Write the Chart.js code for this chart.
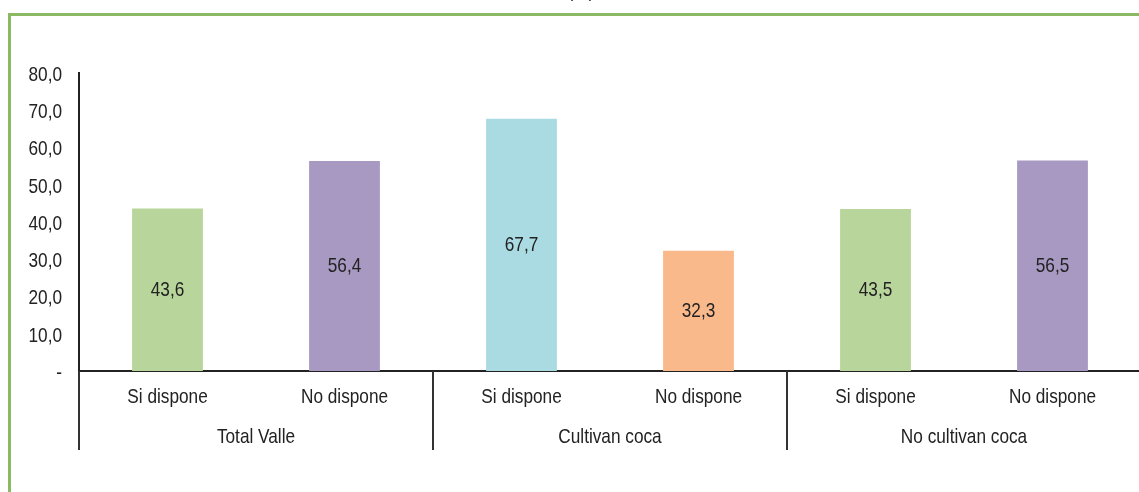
<!DOCTYPE html>
<html>
<head>
<meta charset="utf-8">
<script src="https://cdn.jsdelivr.net/npm/chart.js@4"></script>
<style>
  html, body { margin: 0; padding: 0; background: #fff; overflow: hidden; width: 1139px; height: 492px; }
  #marco { position: absolute; left: 8px; top: 13px; width: 1200px; height: 600px; border: 3px solid #8cb963; box-sizing: border-box; }
  #wrap { position: absolute; left: 0; top: 0; width: 1141px; height: 492px; }
</style>
</head>
<body>
<div id="marco"></div>
<div id="wrap"><canvas id="grafico"></canvas></div>
<script>
// ---------------------------------------------------------------
// Datos
// ---------------------------------------------------------------
const titulo = "(%)";
const grupos = ["Total Valle", "Cultivan coca", "No cultivan coca"];
const categorias = ["Si dispone", "No dispone", "Si dispone", "No dispone", "Si dispone", "No dispone"];
const valores = [43.6, 56.4, 67.7, 32.3, 43.5, 56.5];
const ticksY = [0, 10, 20, 30, 40, 50, 60, 70, 80];

const coloresBarras = ["#b8d59b", "#a899c2", "#aadbe3", "#fab98b", "#b8d59b", "#a899c2"];
const FUENTE = '21px "Liberation Sans", Arial, sans-serif';
const ESTRECHO = 0.82;   // la fuente original es tipo "Narrow"

// formato 43,6 ; cero como "-"
const fmt = v => v === 0 ? "-" : v.toFixed(1).replace(".", ",");

// texto comprimido horizontalmente
function textoEstrecho(ctx, txt, x, y, align, base) {
    ctx.save();
    ctx.translate(x, y);
    ctx.scale(ESTRECHO, 1);
    ctx.font = FUENTE;
    ctx.fillStyle = "#222";
    ctx.textAlign = align;
    ctx.textBaseline = base || "middle";
    ctx.fillText(txt, 0, 0);
    ctx.restore();
}

// ---------------------------------------------------------------
// Plugin: valores dentro de las barras
// ---------------------------------------------------------------
const etiquetasBarras = {
    id: "etiquetasBarras",
    afterDatasetsDraw(chart) {
        const meta = chart.getDatasetMeta(0);
        meta.data.forEach((bar, i) => {
            textoEstrecho(chart.ctx, fmt(valores[i]), bar.x, (bar.y + bar.base) / 2, "center");
        });
    }
};

// ---------------------------------------------------------------
// Plugin: etiquetas de ejes (categorías, grupos, eje Y y título)
// ---------------------------------------------------------------
const ejes = {
    id: "ejes",
    afterDraw(chart) {
        const ctx = chart.ctx;
        const x = chart.scales.x;
        const y = chart.scales.y;
        const area = chart.chartArea;
        const porGrupo = categorias.length / grupos.length;
        const paso = x.getPixelForValue(1) - x.getPixelForValue(0);

        // título (cortado arriba, como en el original)
        textoEstrecho(ctx, titulo, 581, -3, "center", "alphabetic");

        // eje Y
        ticksY.forEach(v => {
            textoEstrecho(ctx, fmt(v), area.left - 17, y.getPixelForValue(v) + 2, "right");
        });

        // categorías
        categorias.forEach((c, i) => {
            textoEstrecho(ctx, c, x.getPixelForValue(i), area.bottom + 26, "center");
        });

        // separadores de grupo
        ctx.save();
        ctx.strokeStyle = "#333";
        ctx.lineWidth = 2;
        for (let g = 0; g <= grupos.length; g++) {
            const px = x.getPixelForValue(g * porGrupo) - paso / 2;
            ctx.beginPath();
            ctx.moveTo(px, area.bottom);
            ctx.lineTo(px, area.bottom + 79);
            ctx.stroke();
        }
        ctx.restore();

        // grupos
        grupos.forEach((g, i) => {
            const a = x.getPixelForValue(i * porGrupo);
            const b = x.getPixelForValue(i * porGrupo + porGrupo - 1);
            textoEstrecho(ctx, g, (a + b) / 2, area.bottom + 66, "center");
        });
    }
};

// ---------------------------------------------------------------
// Gráfico
// ---------------------------------------------------------------
new Chart(document.getElementById("grafico"), {
    type: "bar",
    data: {
        labels: categorias,
        datasets: [{
            data: valores,
            backgroundColor: coloresBarras,
            borderWidth: 0,
            barPercentage: 0.4,
            categoryPercentage: 1
        }]
    },
    options: {
        responsive: true,
        maintainAspectRatio: false,
        animation: false,
        layout: { padding: { top: 73, left: 0, right: 0, bottom: 0 } },
        plugins: {
            legend: { display: false },
            tooltip: { enabled: false }
        },
        scales: {
            x: {
                grid: { display: false, drawTicks: false },
                border: { display: true, color: "#222", width: 2 },
                ticks: { display: false },
                afterFit: s => { s.height = 121; }
            },
            y: {
                min: 0,
                max: 80,
                afterBuildTicks: s => { s.ticks = ticksY.map(v => ({ value: v })); },
                grid: { display: false, drawTicks: false },
                border: { display: true, color: "#222", width: 2 },
                ticks: { display: false },
                afterFit: s => { s.width = 79; }
            }
        }
    },
    plugins: [etiquetasBarras, ejes]
});
</script>
</body>
</html>
